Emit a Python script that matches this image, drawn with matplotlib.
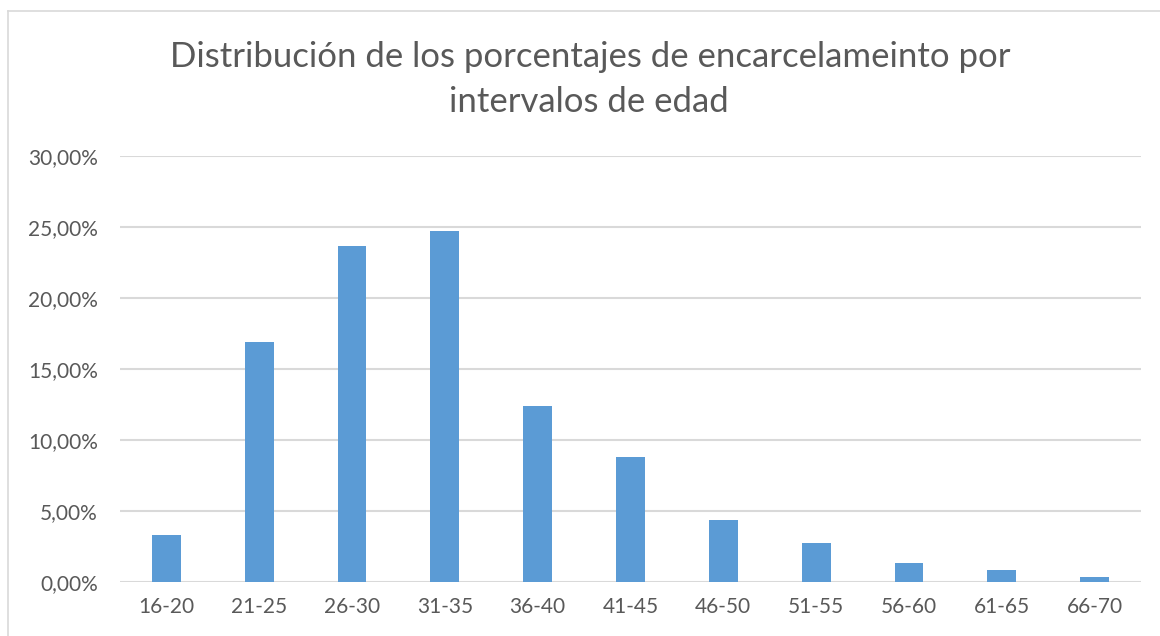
import matplotlib.pyplot as plt
from matplotlib.ticker import FuncFormatter
from matplotlib.lines import Line2D

# Porcentaje de encarcelamiento por intervalo de edad
edades = ["16-20", "21-25", "26-30", "31-35", "36-40", "41-45",
          "46-50", "51-55", "56-60", "61-65", "66-70"]
porcentajes = [3.29, 16.88, 23.68, 24.70, 12.40, 8.80,
               4.39, 2.77, 1.37, 0.87, 0.38]

plt.rcParams["font.family"] = ["Lato", "DejaVu Sans"]
gris = "#595959"

fig = plt.figure(figsize=(11.6, 6.36), dpi=100)
ax = fig.add_axes([120 / 1160, 1 - 582 / 636, 1021 / 1160, 426 / 636])

ax.bar(range(len(edades)), [p / 100 for p in porcentajes], width=0.31,
       color="#5B9BD5", zorder=3)

ax.set_xlim(-0.5, len(edades) - 0.5)
ax.set_ylim(0, 0.30)
ax.set_yticks([0, 0.05, 0.10, 0.15, 0.20, 0.25, 0.30])
ax.yaxis.set_major_formatter(FuncFormatter(lambda v, _: f"{v*100:.2f}%".replace(".", ",")))
ax.set_xticks(range(len(edades)))
ax.set_xticklabels(edades)

ax.grid(axis="y", color="#D9D9D9", linewidth=1.5, zorder=0)
for s in ax.spines.values():
    s.set_visible(False)
ax.tick_params(axis="both", length=0, labelsize=15, labelcolor=gris)
ax.tick_params(axis="x", pad=11)
ax.tick_params(axis="y", pad=16)

# titulo en dos lineas
fig.text(0.509, 1 - 67 / 636, "Distribución de los porcentajes de encarcelameinto por",
         ha="center", va="baseline", fontsize=25, color=gris)
fig.text(0.508, 1 - 112 / 636, "intervalos de edad",
         ha="center", va="baseline", fontsize=25, color=gris)

# borde del gráfico
fig.add_artist(Line2D([8 / 1160, 8 / 1160], [0, 1 - 11 / 636], transform=fig.transFigure,
                      color="#D9D9D9", linewidth=1.2))
fig.add_artist(Line2D([8 / 1160, 1], [1 - 11 / 636, 1 - 11 / 636], transform=fig.transFigure,
                      color="#D9D9D9", linewidth=1.2))

fig.savefig("out.png", dpi=100)
